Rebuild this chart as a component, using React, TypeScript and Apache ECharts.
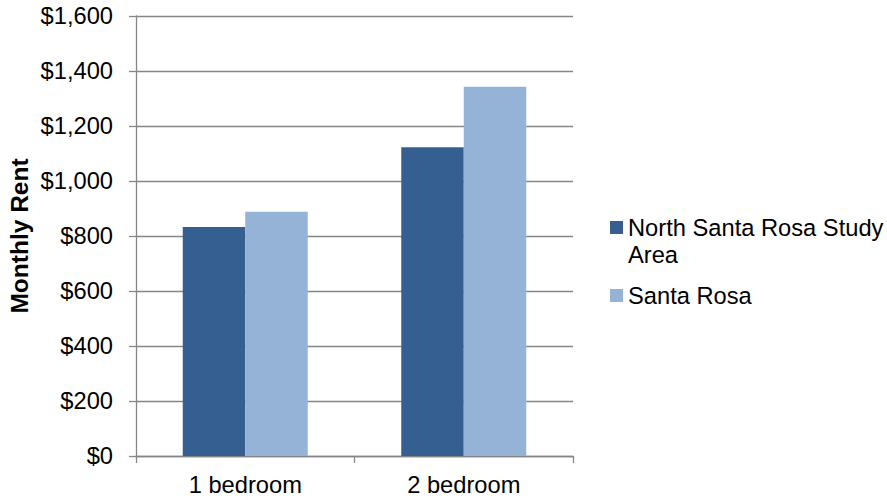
import React, { useEffect, useRef } from "react";
import * as echarts from "echarts";

const categories = ["1 bedroom", "2 bedroom"];
const seriesNames = ["North Santa Rosa Study\nArea", "Santa Rosa"];
const northValues = [833, 1123];
const santaRosaValues = [888, 1343];
const colors = ["#365F91", "#95B3D7"];
const yTicks = { min: 0, max: 1600, interval: 200 };

const FONT = "'Liberation Sans', Arial, sans-serif";
const FS = 23.7;

export default function App() {
  const ref = useRef<HTMLDivElement>(null);
  useEffect(() => {
    document.body.style.margin = "0";
    const chart = echarts.init(ref.current!, null, { renderer: "svg" });
    const option = {
      animation: false,
      backgroundColor: "#ffffff",
      grid: { left: 136, right: 314, top: 16, bottom: 44, containLabel: false },
      xAxis: {
        type: "category",
        data: categories,
        axisLine: { show: true, lineStyle: { color: "#868686", width: 1.3 } },
        axisTick: { show: true, length: 7, alignWithLabel: false, lineStyle: { color: "#868686", width: 1.3 } },
        axisLabel: { color: "#000", fontSize: FS, fontFamily: FONT, margin: 17 },
        splitLine: { show: false },
      },
      yAxis: {
        type: "value",
        min: yTicks.min,
        max: yTicks.max,
        interval: yTicks.interval,
        name: "Monthly Rent",
        nameLocation: "middle",
        nameGap: 104,
        nameRotate: 90,
        nameTextStyle: { color: "#000", fontSize: 24.5, fontWeight: "bold", fontFamily: FONT },
        axisLine: { show: true, lineStyle: { color: "#868686", width: 1.3 } },
        axisTick: { show: true, length: 7, lineStyle: { color: "#868686", width: 1.3 } },
        axisLabel: {
          color: "#000",
          fontSize: FS,
          fontFamily: FONT,
          margin: 23,
          formatter: (v: number) => "$" + v.toLocaleString("en-US"),
        },
        splitLine: { show: true, lineStyle: { color: "#868686", width: 1.3 } },
      },
      legend: { show: false },
      series: [
        {
          name: seriesNames[0],
          type: "bar",
          data: northValues,
          itemStyle: { color: colors[0] },
          barGap: "0%",
          barCategoryGap: "42.8%",
        },
        {
          name: seriesNames[1],
          type: "bar",
          data: santaRosaValues,
          itemStyle: { color: colors[1] },
          barGap: "0%",
          barCategoryGap: "42.8%",
        },
      ],
      graphic: [
        { type: "rect", shape: { x: 610, y: 221, width: 13, height: 13 }, style: { fill: colors[0] } },
        {
          type: "text",
          left: 628,
          top: 214,
          style: {
            text: seriesNames[0],
            fill: "#000",
            font: `${FS}px ${FONT}`,
            lineHeight: 27,
            verticalAlign: "top",
          },
        },
        { type: "rect", shape: { x: 610, y: 289, width: 13, height: 13 }, style: { fill: colors[1] } },
        {
          type: "text",
          x: 628,
          y: 296,
          style: {
            text: seriesNames[1],
            fill: "#000",
            font: `${FS}px ${FONT}`,
            verticalAlign: "middle",
          },
        },
      ],
    };
    chart.setOption(option as any);
    return () => chart.dispose();
  }, []);
  return <div ref={ref} style={{ width: 887, height: 500, position: "fixed", left: 0, top: 0 }} />;
}
